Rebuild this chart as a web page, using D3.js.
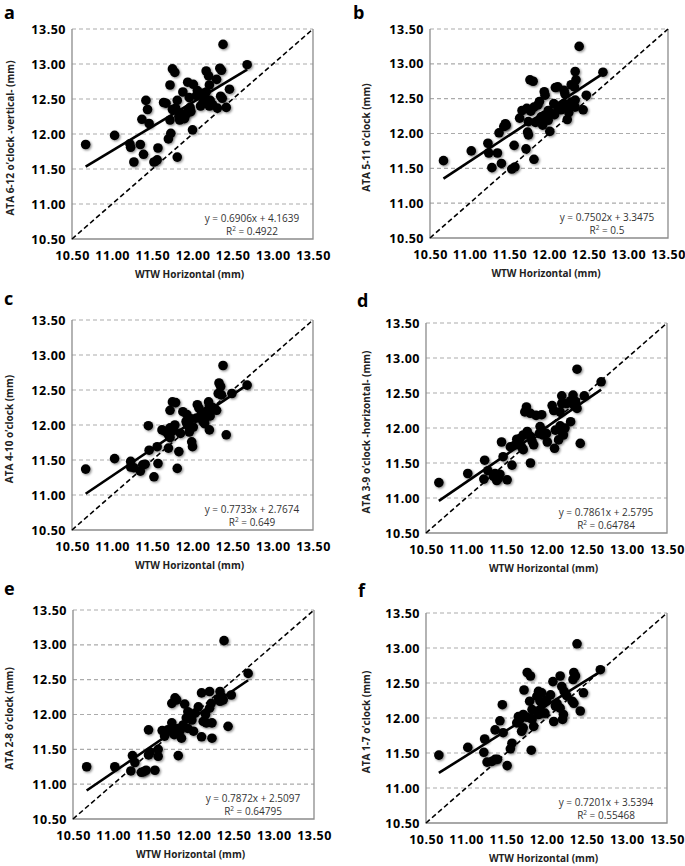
<!DOCTYPE html>
<html><head><meta charset="utf-8">
<script src="https://cdn.jsdelivr.net/npm/d3@7"></script>
<style>body{margin:0;background:#fff}svg{display:block}</style>
</head><body>
<script>
// ---- data ----
const xTicks = [10.5, 11.0, 11.5, 12.0, 12.5, 13.0, 13.5];
const yTicks = [10.5, 11.0, 11.5, 12.0, 12.5, 13.0, 13.5];
const panelLetters = ["a","b","c","d","e","f"];
const yTitles = [
  "ATA 6-12 o\u2019clock -vertical-  (mm)",
  "ATA 5-11 o\u2019clock (mm)",
  "ATA 4-10 o\u2019clock  (mm)",
  "ATA 3-9 o\u2019clock -horizontal-  (mm)",
  "ATA 2-8 o\u2019clock  (mm)",
  "ATA 1-7 o\u2019clock (mm)"
];
const xTitle = "WTW Horizontal (mm)";
const slopes = [0.6906, 0.7502, 0.7733, 0.7861, 0.7872, 0.7201];
const intercepts = [4.1639, 3.3475, 2.7674, 2.5795, 2.5097, 3.5394];
const eqLabels = ["y = 0.6906x + 4.1639","y = 0.7502x + 3.3475","y = 0.7733x + 2.7674","y = 0.7861x + 2.5795","y = 0.7872x + 2.5097","y = 0.7201x + 3.5394"];
const r2Labels = ["0.4922","0.5","0.649","0.64784","0.64795","0.55468"];

const pointsA = [[10.67,11.85],[11.03,11.98],[11.22,11.86],[11.23,11.81],[11.35,11.85],[11.27,11.60],[11.39,11.71],[11.42,12.48],[11.44,12.35],[11.37,12.21],[11.46,12.15],[11.52,11.60],[11.56,11.63],[11.57,11.80],[11.64,12.45],[11.67,12.44],[11.72,12.70],[11.75,12.93],[11.78,12.88],[11.73,12.01],[11.70,11.93],[11.81,11.67],[11.72,12.20],[11.75,12.35],[11.79,12.37],[11.81,12.48],[11.84,12.20],[11.88,12.60],[11.90,12.22],[11.92,12.28],[11.94,12.74],[11.96,12.52],[11.97,12.38],[11.98,12.32],[12.01,12.71],[12.00,12.06],[12.06,12.62],[12.10,12.40],[12.11,12.58],[12.15,12.53],[12.17,12.90],[12.20,12.83],[12.21,12.70],[12.21,12.40],[12.22,12.48],[12.30,12.78],[12.31,12.37],[12.34,12.94],[12.36,12.91],[12.35,12.54],[12.37,12.51],[12.38,13.28],[12.42,12.38],[12.46,12.64],[12.68,12.99],[11.85,12.30],[11.95,12.35],[12.05,12.55],[12.13,12.45],[12.17,12.60],[12.25,12.42],[11.83,12.25]];
const pointsB = [[10.67,11.61],[11.02,11.75],[11.23,11.86],[11.24,11.72],[11.35,11.72],[11.28,11.51],[11.40,11.57],[11.37,12.01],[11.43,12.10],[11.45,12.14],[11.46,12.12],[11.56,11.83],[11.53,11.49],[11.57,11.52],[11.63,12.22],[11.66,12.33],[11.72,12.36],[11.71,11.78],[11.76,12.77],[11.80,12.75],[11.73,12.02],[11.74,11.98],[11.74,12.17],[11.81,11.63],[11.81,12.38],[11.77,12.32],[11.83,12.16],[11.88,12.46],[11.94,12.60],[11.95,12.55],[11.92,12.12],[11.94,12.26],[11.99,12.33],[11.99,12.19],[12.01,12.03],[12.03,12.29],[12.08,12.66],[12.11,12.67],[12.11,12.38],[12.06,12.43],[12.15,12.34],[12.19,12.62],[12.20,12.57],[12.23,12.20],[12.19,12.43],[12.23,12.37],[12.21,12.41],[12.25,12.30],[12.28,12.45],[12.28,12.70],[12.33,12.89],[12.34,12.77],[12.32,12.67],[12.33,12.48],[12.33,12.38],[12.38,13.25],[12.43,12.34],[12.47,12.55],[12.68,12.88],[11.90,12.24],[12.07,12.27],[11.86,12.41]];
const pointsC = [[10.67,11.37],[11.03,11.52],[11.23,11.48],[11.23,11.40],[11.27,11.39],[11.35,11.34],[11.38,11.43],[11.41,11.44],[11.45,11.99],[11.46,11.64],[11.52,11.26],[11.57,11.45],[11.56,11.69],[11.62,11.93],[11.66,11.91],[11.70,11.67],[11.72,12.21],[11.75,12.33],[11.79,12.32],[11.72,11.96],[11.70,11.86],[11.72,11.82],[11.81,11.38],[11.83,11.62],[11.76,11.93],[11.78,12.00],[11.88,12.19],[11.93,12.15],[11.92,12.05],[11.95,11.98],[11.96,11.90],[11.99,11.76],[12.00,11.69],[12.01,11.97],[11.93,12.02],[12.06,12.29],[12.08,12.24],[12.11,12.16],[12.13,12.05],[12.16,12.10],[12.18,12.20],[12.20,12.33],[12.21,12.28],[12.21,11.93],[12.22,12.13],[12.15,12.02],[12.30,12.21],[12.33,12.60],[12.35,12.55],[12.32,12.45],[12.36,12.43],[12.38,12.85],[12.42,11.86],[12.49,12.45],[12.68,12.57],[12.25,12.25],[12.05,12.10],[11.85,11.88],[11.98,12.09]];
const pointsD = [[10.66,11.22],[11.02,11.35],[11.23,11.54],[11.22,11.27],[11.27,11.39],[11.34,11.31],[11.36,11.35],[11.38,11.25],[11.40,11.28],[11.42,11.34],[11.44,11.80],[11.46,11.59],[11.55,11.73],[11.57,11.47],[11.51,11.26],[11.61,11.76],[11.63,11.84],[11.67,11.85],[11.69,11.73],[11.71,11.69],[11.71,11.90],[11.73,12.23],[11.75,12.30],[11.76,11.95],[11.80,12.21],[11.80,11.88],[11.82,11.81],[11.80,11.50],[11.84,11.76],[11.87,12.18],[11.91,11.92],[11.92,12.02],[11.94,11.97],[11.94,12.19],[11.96,11.90],[12.00,11.92],[12.01,11.80],[12.07,12.32],[12.09,12.25],[12.10,11.71],[12.11,11.97],[12.15,11.83],[12.17,12.03],[12.17,12.23],[12.19,12.46],[12.19,12.35],[12.19,11.95],[12.21,11.90],[12.23,12.00],[12.30,12.39],[12.30,12.09],[12.33,12.47],[12.34,12.33],[12.38,12.28],[12.38,12.84],[12.42,11.78],[12.47,12.46],[12.68,12.66],[12.25,12.35],[12.36,12.38]];
const pointsE = [[10.67,11.25],[11.02,11.25],[11.22,11.19],[11.24,11.41],[11.27,11.31],[11.35,11.17],[11.38,11.18],[11.41,11.20],[11.44,11.42],[11.46,11.46],[11.44,11.78],[11.52,11.20],[11.56,11.50],[11.56,11.40],[11.61,11.77],[11.64,11.69],[11.66,11.76],[11.68,11.78],[11.73,11.88],[11.73,11.76],[11.76,11.71],[11.73,12.16],[11.77,12.24],[11.79,12.21],[11.81,11.80],[11.83,11.76],[11.85,11.66],[11.81,11.41],[11.89,12.15],[11.93,12.04],[11.95,11.99],[11.91,11.95],[11.98,11.92],[11.93,11.80],[12.00,11.76],[12.06,12.11],[12.10,12.31],[12.10,11.68],[12.12,11.90],[12.16,11.88],[12.20,12.33],[12.22,12.16],[12.20,12.09],[12.23,11.88],[12.23,11.66],[12.31,12.23],[12.33,12.33],[12.35,12.26],[12.37,12.21],[12.33,12.19],[12.38,13.06],[12.43,11.83],[12.47,12.28],[12.68,12.59],[12.02,12.02],[12.15,12.00],[11.87,11.85]];
const pointsF = [[10.66,11.47],[11.02,11.58],[11.23,11.70],[11.22,11.51],[11.26,11.37],[11.32,11.38],[11.36,11.41],[11.39,11.41],[11.36,11.83],[11.42,11.96],[11.45,12.19],[11.46,11.79],[11.51,11.32],[11.55,11.56],[11.57,11.64],[11.63,11.93],[11.65,12.02],[11.67,11.98],[11.69,11.81],[11.71,11.86],[11.71,12.05],[11.76,12.01],[11.72,12.40],[11.76,12.65],[11.80,12.60],[11.79,12.24],[11.82,12.12],[11.82,11.98],[11.84,11.88],[11.81,11.54],[11.88,12.31],[11.90,12.38],[11.94,12.36],[11.92,12.24],[11.96,12.21],[11.92,12.12],[11.94,12.07],[11.98,12.07],[11.90,12.05],[12.00,12.26],[12.05,12.33],[12.08,12.52],[12.09,11.95],[12.11,12.17],[12.13,12.21],[12.17,12.14],[12.17,12.60],[12.19,12.45],[12.22,12.38],[12.25,12.32],[12.21,12.05],[12.20,11.98],[12.32,12.24],[12.34,12.21],[12.33,12.55],[12.34,12.65],[12.36,12.60],[12.38,13.06],[12.42,12.10],[12.46,12.36],[12.67,12.69]];
const allPoints = [pointsA, pointsB, pointsC, pointsD, pointsE, pointsF];

// ---- layout (pixel boxes of each plot area) ----
const layout = [
  {l:72,  t:29,  r:313, b:239, lx:4,   ly:19,  tx:10},
  {l:430, t:29,  r:668, b:238, lx:353, ly:19,  tx:366},
  {l:72,  t:320, r:313, b:530, lx:4,   ly:305, tx:9},
  {l:426, t:323, r:667, b:533, lx:357, ly:307, tx:366},
  {l:73,  t:610, r:314, b:819, lx:4,   ly:595, tx:9},
  {l:426, t:613, r:667, b:823, lx:358, ly:597, tx:366}
];

const W = 685, H = 866;
const svg = d3.select("body").append("svg").attr("width", W).attr("height", H)
  .style("font-family", "'Open Sans', 'Liberation Sans', sans-serif");

const defs = svg.append("defs");
const f = defs.append("filter").attr("id","sh").attr("x","-50%").attr("y","-50%").attr("width","200%").attr("height","200%");
f.append("feDropShadow").attr("dx",1.2).attr("dy",1.2).attr("stdDeviation",1.1)
  .attr("flood-color","#000").attr("flood-opacity",0.45);

const fmt = d3.format(".2f");

allPoints.forEach((pts, i) => {
  const L = layout[i];
  const x = d3.scaleLinear().domain([10.5, 13.5]).range([L.l, L.r]);
  const y = d3.scaleLinear().domain([10.5, 13.5]).range([L.b, L.t]);
  const g = svg.append("g");

  // gridlines (dashed)
  g.selectAll("line.grid").data(yTicks.filter(v => v > 10.5)).join("line")
    .attr("x1", L.l).attr("x2", L.r)
    .attr("y1", d => y(d)).attr("y2", d => y(d))
    .attr("stroke", "#ababab").attr("stroke-width", 1.2).attr("stroke-dasharray", "4,3");

  // frame: left, right, bottom solid
  g.append("path")
    .attr("d", `M${L.l},${L.t}V${L.b}H${L.r}V${L.t}`)
    .attr("fill","none").attr("stroke","#8c8c8c").attr("stroke-width",1.3);

  // axes labels via d3 axes
  const xAxis = d3.axisBottom(x).tickValues(xTicks).tickFormat(fmt).tickSize(0).tickPadding(12);
  const yAxis = d3.axisLeft(y).tickValues(yTicks).tickFormat(fmt).tickSize(0).tickPadding(6);
  const gx = g.append("g").attr("transform", `translate(0,${L.b})`).call(xAxis);
  const gy = g.append("g").attr("transform", `translate(${L.l},0)`).call(yAxis);
  [gx, gy].forEach(a => {
    a.select(".domain").remove();
    a.selectAll("text").attr("fill","#000").style("font-size","12.5px").style("font-weight","700")
      .style("letter-spacing","0.5px")
      .style("font-family","'Open Sans', sans-serif");
  });

  // identity line (dashed)
  g.append("line")
    .attr("x1", x(10.5)).attr("y1", y(10.5)).attr("x2", x(13.5)).attr("y2", y(13.5))
    .attr("stroke","#000").attr("stroke-width",1.6).attr("stroke-dasharray","5,3");

  // points
  g.selectAll("circle").data(pts).join("circle")
    .attr("cx", d => x(d[0])).attr("cy", d => y(d[1])).attr("r", 4.8)
    .attr("fill", "#000").attr("filter","url(#sh)");

  // regression line
  const xs = d3.extent(pts, d => d[0]);
  g.append("line")
    .attr("x1", x(xs[0])).attr("y1", y(slopes[i]*xs[0] + intercepts[i]))
    .attr("x2", x(xs[1])).attr("y2", y(slopes[i]*xs[1] + intercepts[i]))
    .attr("stroke","#000").attr("stroke-width",2.6);

  // equation
  const ec = L.r - 61;
  g.append("text").attr("x", ec).attr("y", L.b - 17).attr("text-anchor","middle")
    .style("font-size","10px").attr("fill","#333").text(eqLabels[i]);
  const r2 = g.append("text").attr("x", ec).attr("y", L.b - 4).attr("text-anchor","middle")
    .style("font-size","10px").attr("fill","#333");
  r2.append("tspan").text("R");
  r2.append("tspan").attr("dy", -4).style("font-size","6.5px").text("2");
  r2.append("tspan").attr("dy", 4).text(" = " + r2Labels[i]);

  // axis titles
  g.append("text").attr("x", (L.l + L.r)/2 - 3).attr("y", L.b + 39).attr("text-anchor","middle")
    .style("font-size","10px").style("font-weight","700").attr("fill","#222").text(xTitle);
  g.append("text").attr("transform", `translate(${L.tx + 4},${(L.t + L.b)/2 + 4}) rotate(-90)`)
    .attr("text-anchor","middle")
    .style("font-size","10px").style("font-weight","700").attr("fill","#222").text(yTitles[i]);

  // panel letter
  g.append("text").attr("x", L.lx).attr("y", L.ly)
    .style("font-size","18px").style("font-weight","700").attr("fill","#000").text(panelLetters[i]);
});
</script>
</body></html>
